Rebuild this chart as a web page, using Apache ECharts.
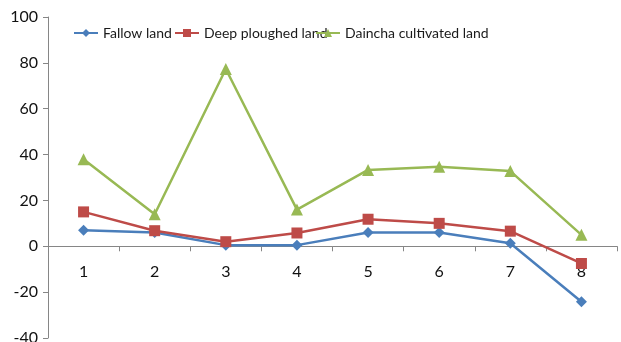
<!DOCTYPE html>
<html>
<head>
<meta charset="utf-8">
<script src="https://cdn.jsdelivr.net/npm/echarts@6/dist/echarts.min.js"></script>
<style>
  html, body { margin: 0; padding: 0; background: #fff; }
  #chart { width: 621px; height: 342px; }
</style>
</head>
<body>
<div id="chart"></div>
<script>
// Sampling points along the x axis
const categories = ['1', '2', '3', '4', '5', '6', '7', '8'];

// Measured values for each land treatment
const fallowLand = [7, 6, 0.5, 0.5, 6, 6, 1.3, -24.2];
const deepPloughedLand = [15, 6.8, 2, 5.8, 11.8, 10, 6.6, -7.5];
const dainchaCultivatedLand = [38, 14, 77.3, 16, 33.3, 34.7, 32.8, 5];

const seriesNames = ['Fallow land', 'Deep ploughed land', 'Daincha cultivated land'];

// Value axis range
const yMin = -40;
const yMax = 100;
const yStep = 20;

const fontFamily = 'Lato, "Open Sans", sans-serif';

const chartWidth = 621;
const chartHeight = 342;
const grid = { left: 48, right: 4, top: 17, bottom: 4 };

// The category axis sits on the zero line, labels included
const plotHeight = chartHeight - grid.top - grid.bottom;
const zeroOffset = -((0 - yMin) / (yMax - yMin)) * plotHeight;

const chart = echarts.init(document.getElementById('chart'));

function lineSeries(name, data, color, symbol, size) {
  return {
    name: name,
    type: 'line',
    data: data,
    symbol: symbol,
    symbolSize: size,
    showAllSymbol: true,
    itemStyle: { color: color },
    lineStyle: { color: color, width: 2.5 },
    emphasis: { disabled: true },
    animation: false
  };
}

// One legend block per series so each entry can sit at its own offset
const legendLefts = [73, 174, 315];
const legends = seriesNames.map((name, i) => ({
  data: [name],
  left: legendLefts[i],
  top: 26,
  padding: 0,
  itemWidth: 24,
  itemHeight: 10,
  itemGap: 4,
  textStyle: { fontFamily: fontFamily, fontSize: 14, color: '#1a1a1a' }
}));

chart.setOption({
  animation: false,
  legend: legends,
  grid: Object.assign({ containLabel: false, outerBoundsMode: 'none' }, grid),
  xAxis: {
    type: 'category',
    data: categories,
    boundaryGap: true,
    position: 'bottom',
    offset: zeroOffset,
    axisLine: { onZero: false, lineStyle: { color: '#868686', width: 1 } },
    axisTick: { show: true, inside: false, length: 5, alignWithLabel: false, lineStyle: { color: '#868686' } },
    axisLabel: { margin: 18, fontFamily: fontFamily, fontSize: 16, color: '#111' },
    splitLine: { show: false }
  },
  yAxis: {
    type: 'value',
    min: yMin,
    max: yMax,
    interval: yStep,
    axisLine: { show: true, lineStyle: { color: '#868686', width: 1 } },
    axisTick: { show: true, length: 5, lineStyle: { color: '#868686' } },
    axisLabel: { margin: 10, fontFamily: fontFamily, fontSize: 16, color: '#111' },
    splitLine: { show: false }
  },
  series: [
    lineSeries(seriesNames[0], fallowLand, '#4a7ebb', 'diamond', 11),
    lineSeries(seriesNames[1], deepPloughedLand, '#be4b48', 'rect', 11),
    lineSeries(seriesNames[2], dainchaCultivatedLand, '#98b954', 'triangle', 12)
  ]
});
</script>
</body>
</html>
